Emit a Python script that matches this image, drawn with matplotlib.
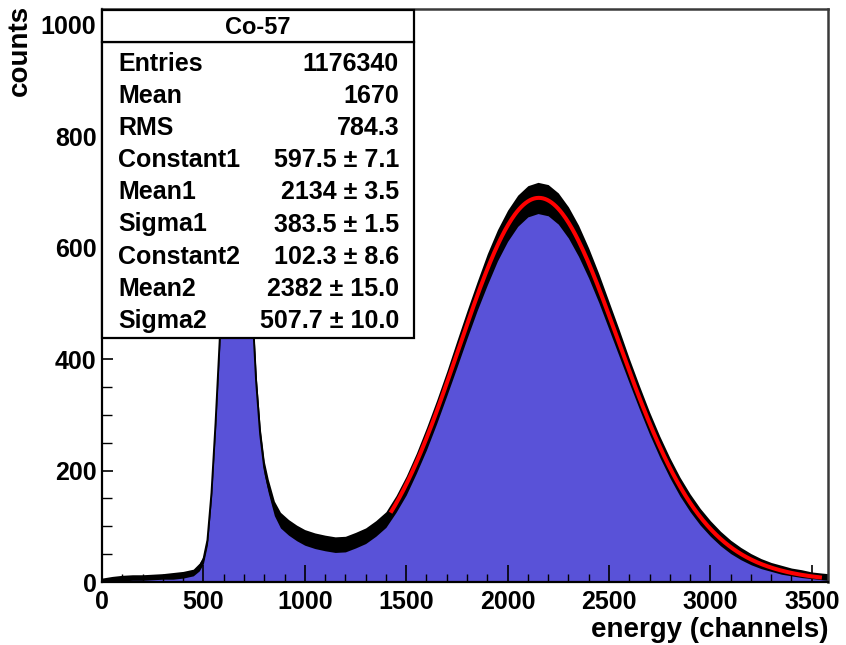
import matplotlib
matplotlib.use("Agg")
import matplotlib.pyplot as plt
import numpy as np
from matplotlib.patches import Rectangle

plt.rcParams['font.family'] = ['Liberation Sans', 'DejaVu Sans']
plt.rcParams['font.weight'] = 'bold'

# ---- histogram: channel, centre counts, half-width of noisy black band
channels = [0, 50, 100, 150, 200, 250, 300, 350, 400, 450, 480, 500, 520, 540, 560, 580,
            600, 620, 640, 660, 680, 700, 720, 740, 760, 780, 800, 820, 850, 880, 920, 960,
            1000, 1050, 1100, 1150, 1200, 1250, 1300, 1350, 1400, 1450, 1500, 1550, 1600,
            1650, 1700, 1750, 1800, 1850, 1900, 1950, 2000, 2050, 2100, 2150, 2200, 2250,
            2300, 2350, 2400, 2450, 2500, 2550, 2600, 2650, 2700, 2750, 2800, 2850, 2900,
            2950, 3000, 3050, 3100, 3150, 3200, 3250, 3300, 3350, 3400, 3450, 3500, 3550, 3580]
counts = [3, 5, 7, 8, 8, 9, 10, 11, 13, 17, 27, 40, 75, 160, 285, 430,
          610, 780, 910, 975, 960, 880, 740, 500, 360, 265, 205, 172, 132, 111, 98, 88,
          80, 74, 70, 67, 68, 75, 83, 96, 112, 140, 173, 213, 257,
          305, 356, 409, 462, 513, 561, 604, 639, 666, 683, 689, 685, 670,
          645, 612, 572, 527, 478, 429, 379, 331, 285, 243, 205, 171, 142,
          117, 96, 78, 63, 51, 41, 33, 27, 22, 18, 15, 12, 10, 9]
band_halfwidth = [4, 5, 5, 5, 5, 5, 5, 6, 6, 6, 7, 7, 8, 9, 10, 12,
                  14, 14, 14, 14, 14, 14, 14, 14, 12, 12, 12, 12, 13, 14, 14, 14,
                  14, 14, 14, 14, 14, 14, 14, 14, 14, 15, 17, 18, 20,
                  21, 22, 24, 25, 26, 28, 28, 28, 28, 28, 28, 28, 28,
                  28, 28, 27, 26, 25, 24, 22, 21, 20, 19, 18, 17, 16,
                  15, 14, 13, 12, 11, 10, 9, 8, 8, 7, 7, 6, 6, 6]

# ---- fit (double gaussian) parameters from the stats box
fit_constants = [597.5, 102.3]
fit_means = [2134, 2382]
fit_sigmas = [383.5, 507.7]
fit_range = [1423, 3550]

# ---- stats box text
stat_title = "Co-57"
stat_labels = ["Entries", "Mean", "RMS", "Constant1", "Mean1", "Sigma1",
               "Constant2", "Mean2", "Sigma2"]
stat_values = ["1176340", "1670", "784.3", "597.5 \u00b1 7.1", "2134 \u00b1 3.5",
               "383.5 \u00b1 1.5", "102.3 \u00b1 8.6", "2382 \u00b1 15.0", "507.7 \u00b1 10.0"]

x_ticks = [0, 500, 1000, 1500, 2000, 2500, 3000, 3500]
y_ticks = [0, 200, 400, 600, 800, 1000]

W, H = 846, 645
fig = plt.figure(figsize=(W / 100, H / 100), dpi=100)
fig.patch.set_facecolor('white')

L, R, T, B = 102, 828, 9, 582
ax = fig.add_axes([L / W, 1 - B / H, (R - L) / W, (B - T) / H])

ch = np.array(channels, dtype=float)
cn = np.array(counts, dtype=float)
hw = np.array(band_halfwidth, dtype=float)

blue = '#5952d8'
ax.fill_between(ch, 0, cn, color=blue, lw=0, zorder=1)
ax.fill_between(ch, np.clip(cn - hw, 0, None), cn + hw, color='black', lw=0, zorder=2)
ax.plot(ch, cn, color='black', lw=1.4, zorder=2)

xf = np.linspace(fit_range[0], fit_range[1], 400)
yf = np.zeros_like(xf)
for c, m, s in zip(fit_constants, fit_means, fit_sigmas):
    yf += c * np.exp(-0.5 * ((xf - m) / s) ** 2)
ax.plot(xf, yf, color='#ff0000', lw=2.9, zorder=3, solid_capstyle='butt')

ax.set_xlim(0, 3580)
ax.set_ylim(0, 1028)
ax.set_xticks(x_ticks)
ax.set_xticks(np.arange(0, 3581, 100), minor=True)
ax.set_yticks(y_ticks)
ax.set_yticks(np.arange(0, 1001, 50), minor=True)
ax.set_xticklabels([str(v) for v in x_ticks])
ax.set_yticklabels([str(v) for v in y_ticks])

ax.tick_params(axis='x', which='major', direction='in', length=12, width=1.2, pad=6,
               labelsize=18, top=False)
ax.tick_params(axis='x', which='minor', direction='in', length=6, width=1.0, top=False)
ax.tick_params(axis='y', which='major', direction='in', length=8, width=1.2, pad=4,
               labelsize=18, right=False)
ax.tick_params(axis='y', which='minor', direction='in', length=7, width=1.0, right=False)
for lab in ax.get_xticklabels() + ax.get_yticklabels():
    lab.set_fontweight('bold')
for side in ['left', 'bottom']:
    ax.spines[side].set_linewidth(1.6)
    ax.spines[side].set_color('black')
for side in ['top', 'right']:
    ax.spines[side].set_linewidth(1.8)
    ax.spines[side].set_color('#3a3a3a')
for t in ax.xaxis.get_major_ticks() + ax.xaxis.get_minor_ticks() + \
         ax.yaxis.get_major_ticks() + ax.yaxis.get_minor_ticks():
    t.tick1line.set_zorder(4)

# axis titles
fig.text(R / W, 1 - 630 / H, "energy (channels)", ha='right', va='center',
         fontsize=20, fontweight='bold')
fig.text(20 / W, 1 - 5 / H, "counts", ha='center', va='top', rotation=90,
         fontsize=20, fontweight='bold')

# stats box
sx0, sx1, sy0, sy1 = 102, 414, 10, 338
sax = fig.add_axes([0, 0, 1, 1], facecolor='none')
sax.set_xlim(0, W)
sax.set_ylim(H, 0)
sax.axis('off')
sax.add_patch(Rectangle((sx0, 42), sx1 - sx0, sy1 - 42, facecolor='white',
                        edgecolor='black', lw=1.6, zorder=5))
sax.add_patch(Rectangle((sx0, sy0), sx1 - sx0, 42 - sy0, facecolor='white',
                        edgecolor='black', lw=1.6, zorder=6))
sax.text(258, 27, stat_title, ha='center', va='center', fontsize=17,
         fontweight='bold', zorder=7)
row_y0, row_dy = 64, 32.1
for i, (lab, val) in enumerate(zip(stat_labels, stat_values)):
    yy = row_y0 + i * row_dy
    sax.text(118, yy, lab, ha='left', va='center', fontsize=18, fontweight='bold', zorder=7)
    sax.text(399, yy, val, ha='right', va='center', fontsize=18, fontweight='bold', zorder=7)

fig.savefig("out.png", dpi=100)
